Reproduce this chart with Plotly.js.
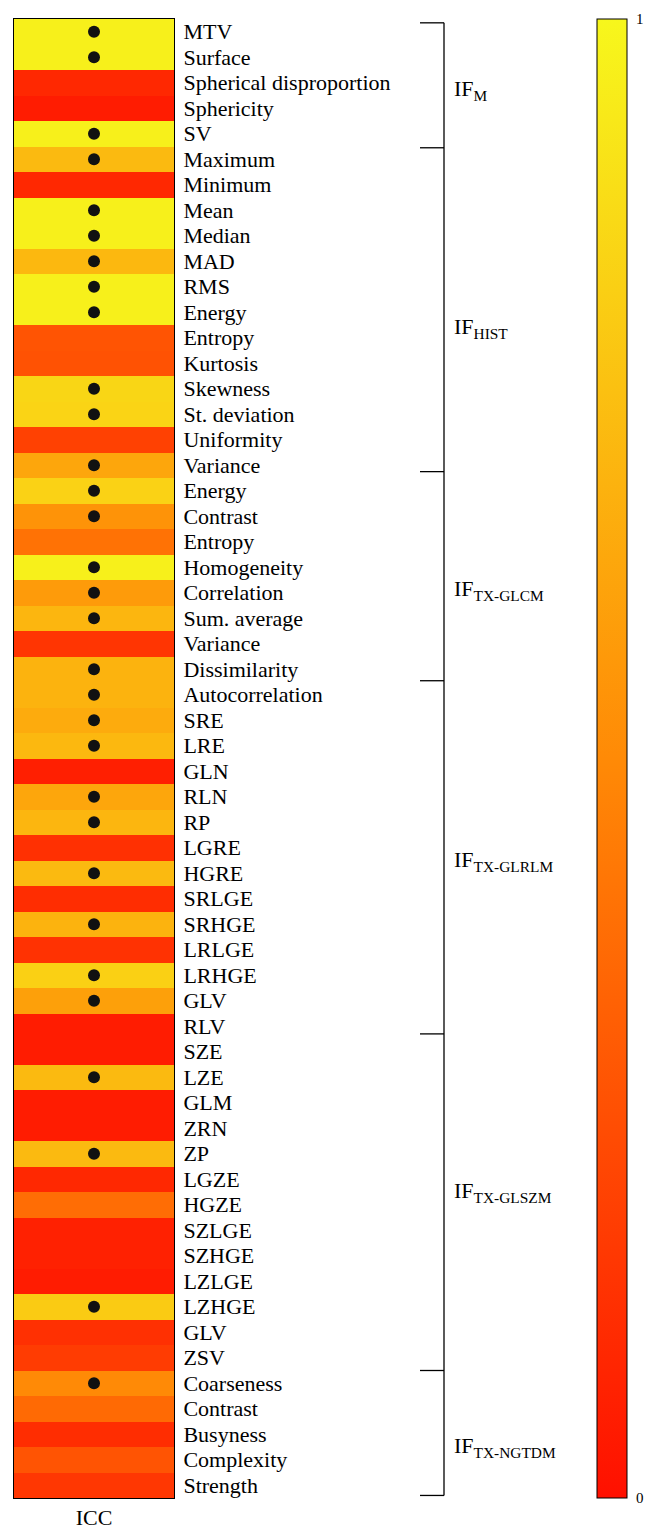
<!DOCTYPE html>
<html>
<head>
<meta charset="utf-8">
<script src="https://cdn.plot.ly/plotly-3.0.1.min.js"></script>
<style>html,body{margin:0;padding:0;background:#fff;}#chart{width:656px;height:1537px;}</style>
</head>
<body>
<div id="chart"></div>
<script>
// Feature names (top to bottom)
const features = [
  "MTV","Surface","Spherical disproportion","Sphericity","SV",
  "Maximum","Minimum","Mean","Median","MAD","RMS","Energy","Entropy","Kurtosis","Skewness","St. deviation","Uniformity","Variance",
  "Energy","Contrast","Entropy","Homogeneity","Correlation","Sum. average","Variance","Dissimilarity","Autocorrelation",
  "SRE","LRE","GLN","RLN","RP","LGRE","HGRE","SRLGE","SRHGE","LRLGE","LRHGE","GLV","RLV",
  "SZE","LZE","GLM","ZRN","ZP","LGZE","HGZE","SZLGE","SZHGE","LZLGE","LZHGE","GLV","ZSV",
  "Coarseness","Contrast","Busyness","Complexity","Strength"
];
// ICC values (estimated from colour)
const icc = [
  0.97,0.97,0.10,0.05,0.97,
  0.72,0.10,0.97,0.97,0.71,0.97,0.97,0.28,0.27,0.85,0.84,0.20,0.63,
  0.83,0.54,0.40,0.97,0.58,0.70,0.15,0.69,0.69,
  0.65,0.71,0.06,0.63,0.70,0.13,0.72,0.12,0.69,0.14,0.82,0.60,0.05,
  0.05,0.72,0.05,0.05,0.72,0.10,0.38,0.07,0.07,0.05,0.80,0.13,0.18,
  0.50,0.37,0.12,0.28,0.16
];
// Reproducible features (black dot)
const reproducible = [
  1,1,0,0,1,
  1,0,1,1,1,1,1,0,0,1,1,0,1,
  1,1,0,1,1,1,0,1,1,
  1,1,0,1,1,0,1,0,1,0,1,1,0,
  0,1,0,0,1,0,0,0,0,0,1,0,0,
  1,0,0,0,0
];
const columnLabel = "ICC";
// Feature groups
const groupLabels = ["IF<sub>M</sub>","IF<sub>HIST</sub>","IF<sub>TX-GLCM</sub>","IF<sub>TX-GLRLM</sub>","IF<sub>TX-GLSZM</sub>","IF<sub>TX-NGTDM</sub>"];
const groupEdges = [-0.35, 4.55, 17.25, 25.45, 39.3, 52.5, 57.4];
const groupLabelRows = [2.3, 11.6, 21.9, 32.5, 45.5, 55.5];
const colorbarTicks = [0, 1];

const idx = features.map((_, i) => i);
const FONT = "Liberation Serif, Times New Roman, serif";

const heat = {
  type: "heatmap",
  x: [0],
  y: idx,
  z: icc.map(v => [v]),
  zmin: 0, zmax: 1,
  colorscale: [[0, "#ff1000"], [0.5, "#ff8a06"], [1, "#f7f71c"]],
  hoverinfo: "skip",
  colorbar: {
    x: 597 / 656, xanchor: "left", xref: "container",
    y: 0.5, yanchor: "middle", len: 1, lenmode: "fraction",
    thickness: 30, thicknessmode: "pixels",
    xpad: 0, ypad: 0,
    outlinewidth: 1, outlinecolor: "#000",
    tickvals: colorbarTicks, ticktext: colorbarTicks.map(String),
    ticks: "outside", ticklen: 6, tickcolor: "rgba(0,0,0,0)",
    tickfont: {family: FONT, size: 15, color: "#000"}
  }
};
const dotRows = idx.filter(i => reproducible[i]);
const dots = {
  type: "scatter", mode: "markers",
  x: dotRows.map(() => 0), y: dotRows,
  marker: {color: "#111", size: 12},
  hoverinfo: "skip", showlegend: false
};

const xBr = (420 - 14) / 160, xV = (444 - 14) / 160;
const shapes = [{type: "line", xref: "paper", yref: "y", x0: xV, x1: xV, y0: groupEdges[0], y1: groupEdges[groupEdges.length - 1], line: {color: "#000", width: 1.3}}];
groupEdges.forEach(e => shapes.push({type: "line", xref: "paper", yref: "y", x0: xBr, x1: xV, y0: e, y1: e, line: {color: "#000", width: 1.3}}));
const annotations = groupLabels.map((t, i) => ({
  text: t, xref: "paper", yref: "y", x: (452 - 14) / 160, y: groupLabelRows[i],
  xanchor: "left", yanchor: "middle", showarrow: false,
  font: {family: FONT, size: 22, color: "#000"}
}));

const layout = {
  width: 656, height: 1537,
  margin: {l: 14, r: 482, t: 19, b: 39, pad: 0},
  paper_bgcolor: "#fff", plot_bgcolor: "#fff",
  showlegend: false,
  xaxis: {range: [-0.5, 0.5], tickvals: [0], ticktext: [columnLabel], ticks: "", showgrid: false, zeroline: false,
          showline: true, mirror: true, linecolor: "#000", linewidth: 1,
          tickfont: {family: FONT, size: 22, color: "#000"}, fixedrange: true},
  yaxis: {range: [57.5, -0.5], side: "right", tickvals: idx, ticktext: features, ticks: "", showgrid: false, zeroline: false,
          showline: true, mirror: true, linecolor: "#000", linewidth: 1, ticklabelstandoff: 4,
          tickfont: {family: FONT, size: 22, color: "#000"}, fixedrange: true},
  shapes: shapes,
  annotations: annotations
};
Plotly.newPlot("chart", [heat, dots], layout, {displayModeBar: false, staticPlot: true});
</script>
</body>
</html>
